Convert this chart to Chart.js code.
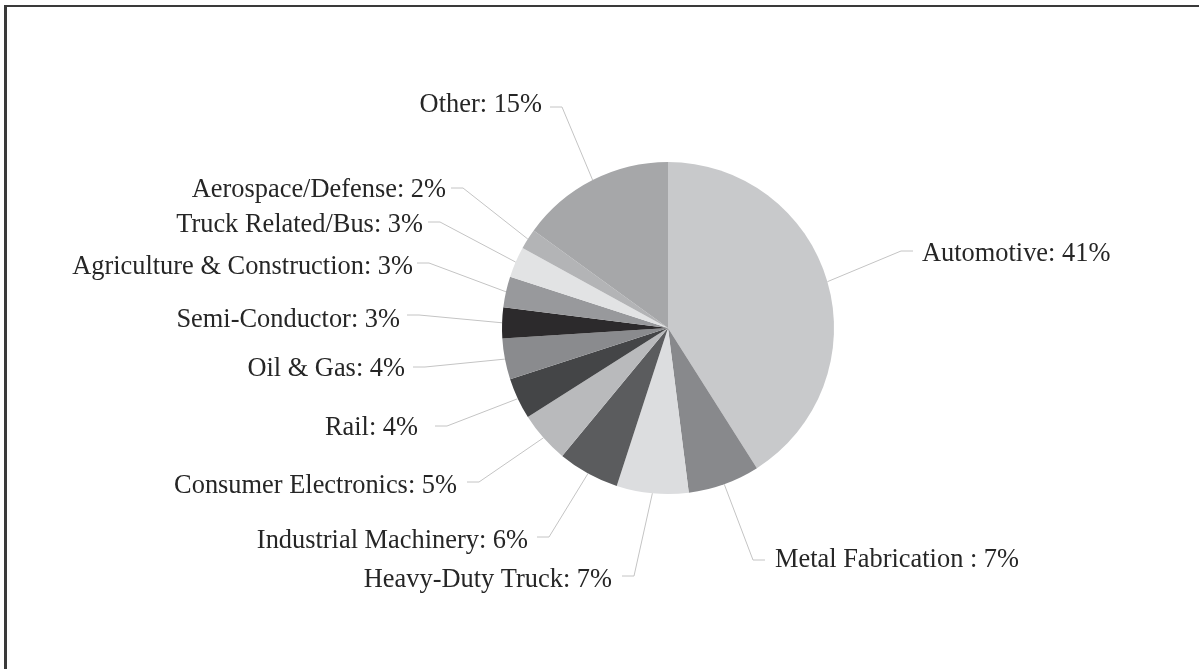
<!DOCTYPE html>
<html>
<head>
<meta charset="utf-8">
<script src="https://cdn.jsdelivr.net/npm/chart.js@4.4.1/dist/chart.umd.min.js"></script>
<style>
  html, body { margin: 0; padding: 0; background: #ffffff; }
  #wrap { position: relative; width: 1199px; height: 669px; overflow: hidden; }
  #frame { position: absolute; left: 4px; top: 5px; width: 1200px; height: 670px;
           border-top: 2px solid #3a3a3a; border-left: 3px solid #3a3a3a; box-sizing: border-box; }
  #c { position: absolute; left: 0; top: 0; }
</style>
</head>
<body>
<div id="wrap">
  <div id="frame"></div>
  <canvas id="c" width="1199" height="669"></canvas>
</div>
<script>
// ---- Data ----
const categories = [
  "Automotive", "Metal Fabrication ", "Heavy-Duty Truck", "Industrial Machinery",
  "Consumer Electronics", "Rail", "Oil & Gas", "Semi-Conductor",
  "Agriculture & Construction", "Truck Related/Bus", "Aerospace/Defense", "Other"
];
const shares = [41, 7, 7, 6, 5, 4, 4, 3, 3, 3, 2, 15];
const sliceColors = [
  "#c8c9cb", "#88898c", "#dcdddf", "#5b5c5e",
  "#b9babc", "#444547", "#8a8b8e", "#2c2a2c",
  "#98999c", "#e2e3e4", "#b3b4b6", "#a6a7a9"
];

// ---- Label layout (annotation placement, not data) ----
// side, text edge x, baseline y, leader attach x, attach y
const labelLayout = [
  { side: "R", tx: 922, ty: 261, ax: 913, ay: 251 },
  { side: "R", tx: 775, ty: 567, ax: 765, ay: 560 },
  { side: "L", tx: 612, ty: 587, ax: 622, ay: 576 },
  { side: "L", tx: 528, ty: 548, ax: 537, ay: 537 },
  { side: "L", tx: 457, ty: 493, ax: 467, ay: 482 },
  { side: "L", tx: 418, ty: 435, ax: 435, ay: 426 },
  { side: "L", tx: 405, ty: 376, ax: 413, ay: 367 },
  { side: "L", tx: 400, ty: 327, ax: 407, ay: 315 },
  { side: "L", tx: 413, ty: 274, ax: 417, ay: 263 },
  { side: "L", tx: 423, ty: 232, ax: 428, ay: 222 },
  { side: "L", tx: 446, ty: 197, ax: 451, ay: 188 },
  { side: "L", tx: 542, ty: 112, ax: 550, ay: 107 }
];

const leaderLabels = {
  id: "leaderLabels",
  afterDatasetsDraw(chart) {
    const ctx = chart.ctx;
    const meta = chart.getDatasetMeta(0);
    const ds = chart.data.datasets[0];
    ctx.save();
    meta.data.forEach((arc, i) => {
      const p = arc.getProps(["x", "y", "startAngle", "endAngle", "outerRadius"], true);
      const mid = (p.startAngle + p.endAngle) / 2;
      const ex = p.x + Math.cos(mid) * p.outerRadius;
      const ey = p.y + Math.sin(mid) * p.outerRadius;
      const L = labelLayout[i];
      const dir = L.side === "L" ? 1 : -1;
      const elbowX = L.ax + dir * 12;
      // leader line
      ctx.strokeStyle = "#c4c4c4";
      ctx.lineWidth = 1;
      ctx.beginPath();
      ctx.moveTo(L.ax, L.ay);
      ctx.lineTo(elbowX, L.ay);
      ctx.lineTo(ex, ey);
      ctx.stroke();
      // text
      ctx.fillStyle = "#262626";
      ctx.font = "26.4px 'Liberation Serif', 'Times New Roman', serif";
      ctx.textBaseline = "alphabetic";
      ctx.textAlign = L.side === "L" ? "right" : "left";
      const txt = chart.data.labels[i] + ": " + ds.data[i] + "%";
      ctx.fillText(txt, L.tx, L.ty);
    });
    ctx.restore();
  }
};

new Chart(document.getElementById("c"), {
  type: "pie",
  data: {
    labels: categories,
    datasets: [{
      data: shares,
      backgroundColor: sliceColors,
      borderWidth: 0
    }]
  },
  options: {
    responsive: false,
    animation: false,
    layout: { padding: { left: 300, right: 163, top: 162, bottom: 175 } },
    plugins: {
      legend: { display: false },
      tooltip: { enabled: false }
    }
  },
  plugins: [leaderLabels]
});
</script>
</body>
</html>
